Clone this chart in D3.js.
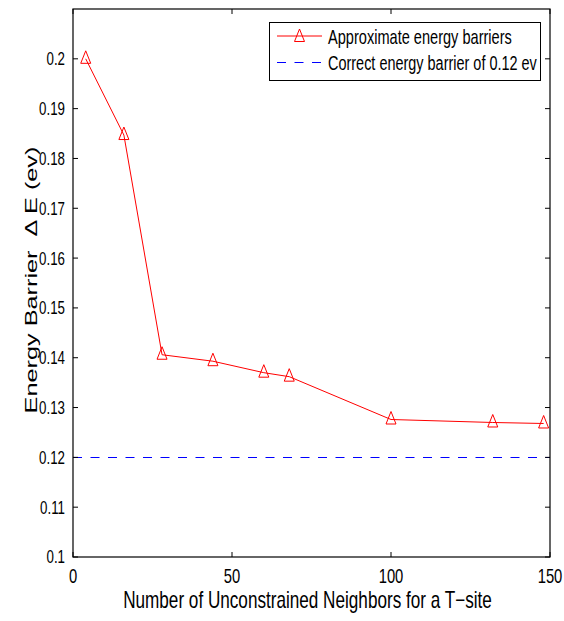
<!DOCTYPE html>
<html>
<head>
<meta charset="utf-8">
<script src="https://cdn.jsdelivr.net/npm/d3@7"></script>
<style>
  html, body { margin: 0; padding: 0; background: #fff; }
  svg { display: block; }
  text { font-family: "Liberation Sans", Arial, Helvetica, sans-serif; fill: #000; white-space: pre; }
</style>
</head>
<body>
<svg id="chart" width="564" height="621"></svg>
<script>
// ---- data ----
const neighbors = [4, 16, 28, 44, 60, 68, 100, 132, 148];
const barriers = [0.2, 0.1847, 0.1406, 0.1393, 0.1370, 0.1362, 0.1276, 0.1270, 0.1268];
const correctBarrier = 0.12;
const xTicks = [0, 50, 100, 150];
const yTicks = [0.1, 0.11, 0.12, 0.13, 0.14, 0.15, 0.16, 0.17, 0.18, 0.19, 0.2];
const seriesNames = ["Approximate energy barriers", "Correct energy barrier of 0.12 ev"];
const xLabel = "Number of Unconstrained Neighbors for a T\u2212site";
const yLabel = "Energy Barrier \u00a0\u0394 E (ev)";

// ---- layout ----
const L = 73, R = 550, T = 9, B = 557;
const svg = d3.select("#chart");

const x = d3.scaleLinear().domain([0, 150]).range([L, R]);
const y = d3.scaleLinear().domain([0.1, 0.21]).range([B, T]);

// place text at (px,py) with anchor, horizontally scaled by factor (or to target width)
function placeText(g, str, px, py, size, anchor, opts) {
  opts = opts || {};
  const outer = g.append("g").attr("transform", `translate(${px},${py})${opts.rotate ? " rotate(" + opts.rotate + ")" : ""}`);
  const t = outer.append("text").attr("font-size", size).attr("text-anchor", anchor)
    .attr("dy", opts.dy || 0).text(str);
  const w = t.node().getComputedTextLength();
  const sx = opts.width ? opts.width / w : (opts.factor || 1);
  t.attr("transform", `scale(${sx},1)`);
  return t;
}

// correct barrier dashed line
svg.append("line")
  .attr("x1", x(0)).attr("x2", x(150))
  .attr("y1", Math.round(y(correctBarrier)) + 0.5).attr("y2", Math.round(y(correctBarrier)) + 0.5)
  .attr("stroke", "#0000ff").attr("stroke-width", 1)
  .attr("stroke-dasharray", "9,8.5");

// series line
const line = d3.line().x((d, i) => x(neighbors[i])).y(d => y(d));
svg.append("path").datum(barriers)
  .attr("d", line).attr("fill", "none")
  .attr("stroke", "#ff0000").attr("stroke-width", 1);

const tri = "M0,-8L5,4.5L-5,4.5Z";
svg.selectAll("path.mk").data(barriers).enter().append("path")
  .attr("class", "mk")
  .attr("d", tri)
  .attr("transform", (d, i) => `translate(${x(neighbors[i])},${y(d)})`)
  .attr("fill", "none").attr("stroke", "#ff0000").attr("stroke-width", 1);

// axes box
const axG = svg.append("g");
axG.append("rect").attr("x", L).attr("y", T).attr("width", R - L).attr("height", B - T)
  .attr("fill", "none").attr("stroke", "#000").attr("stroke-width", 1.2);

// inward ticks
const tl = 5;
axG.selectAll("line.yt").data(yTicks).enter().append("line")
  .attr("x1", L).attr("x2", L + tl).attr("y1", d => y(d)).attr("y2", d => y(d))
  .attr("stroke", "#000").attr("stroke-width", 1);
axG.selectAll("line.ytr").data(yTicks).enter().append("line")
  .attr("x1", R).attr("x2", R - tl).attr("y1", d => y(d)).attr("y2", d => y(d))
  .attr("stroke", "#000").attr("stroke-width", 1);
axG.selectAll("line.xt").data(xTicks).enter().append("line")
  .attr("x1", d => x(d)).attr("x2", d => x(d)).attr("y1", B).attr("y2", B - tl)
  .attr("stroke", "#000").attr("stroke-width", 1);
axG.selectAll("line.xtt").data(xTicks).enter().append("line")
  .attr("x1", d => x(d)).attr("x2", d => x(d)).attr("y1", T).attr("y2", T + tl)
  .attr("stroke", "#000").attr("stroke-width", 1);

// tick labels
yTicks.forEach(v => placeText(axG, String(+v.toFixed(2)), L - 8, y(v), 18, "end", { factor: 0.74, dy: "0.36em" }));
xTicks.forEach(v => placeText(axG, String(v), x(v), 583, 20, "middle", { factor: 0.74 }));

// axis labels
placeText(svg, xLabel, 307.5, 608, 23, "middle", { width: 369 });
placeText(svg, yLabel, 37, 280, 17, "middle", { width: 267, rotate: -90 });

// legend
const lg = svg.append("g");
lg.append("rect").attr("x", 269.5).attr("y", 22.5).attr("width", 271).attr("height", 58)
  .attr("fill", "#fff").attr("stroke", "#000").attr("stroke-width", 1);
const rows = [36, 62];
lg.append("line").attr("x1", 277).attr("x2", 322).attr("y1", rows[0]).attr("y2", rows[0])
  .attr("stroke", "#ff0000").attr("stroke-width", 1);
lg.append("path").attr("d", tri).attr("transform", `translate(299.5,${rows[0] + 1})`)
  .attr("fill", "none").attr("stroke", "#ff0000").attr("stroke-width", 1);
lg.append("line").attr("x1", 277).attr("x2", 322).attr("y1", rows[1] + 0.5).attr("y2", rows[1] + 0.5)
  .attr("stroke", "#0000ff").attr("stroke-width", 1).attr("stroke-dasharray", "9,8.5");
const lens = [184, 209];
seriesNames.forEach((s, i) => placeText(lg, s, 328, rows[i] + 8, 21, "start", { width: lens[i] }));
</script>
</body>
</html>
